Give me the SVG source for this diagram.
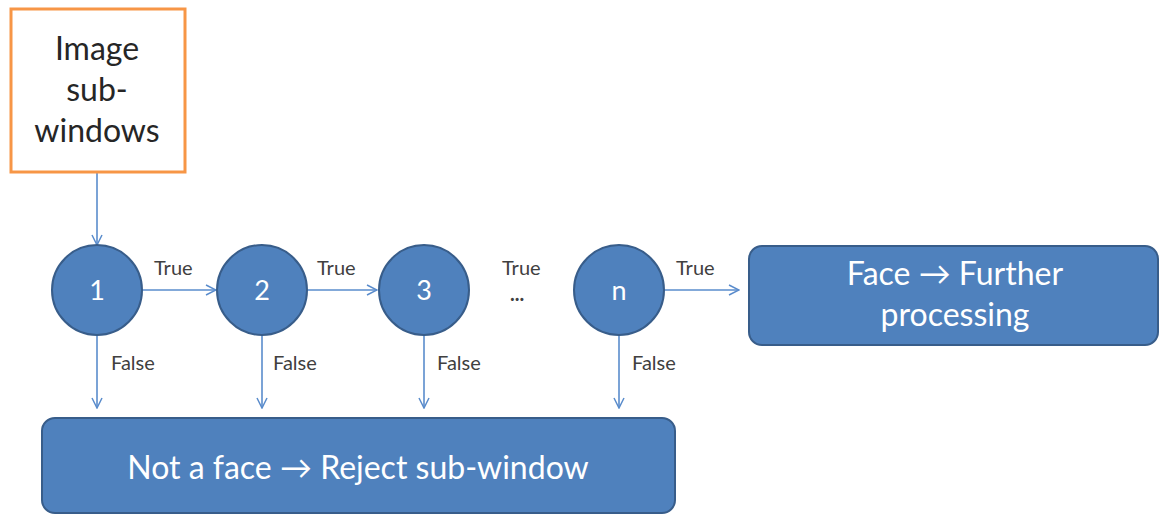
<svg xmlns="http://www.w3.org/2000/svg" width="1159" height="515" viewBox="0 0 1159 515">
  <style>
    .stage { fill: #4f81bd; stroke: #385d8a; stroke-width: 2; }
    .num { font-family: Lato, "Open Sans", sans-serif; font-size: 27px; fill: #ffffff; text-anchor: middle; }
    .big { font-family: Lato, "Open Sans", sans-serif; font-size: 32px; fill: #ffffff; text-anchor: middle; }
    .src { font-family: Lato, "Open Sans", sans-serif; font-size: 32px; fill: #262626; text-anchor: middle; }
    .lbl { font-family: Lato, "Open Sans", sans-serif; font-size: 20px; fill: #404040; }
    .wire { stroke: #5a8ccc; stroke-width: 1.6; fill: none; marker-end: url(#arrow); }
  </style>
  <defs>
    <marker id="arrow" viewBox="0 0 12 12" refX="11" refY="6" markerWidth="12" markerHeight="12" markerUnits="userSpaceOnUse" orient="auto">
      <path d="M1,1 L11,6 L1,11" fill="none" stroke="#5a8ccc" stroke-width="1.5"/>
    </marker>
  </defs>

  <rect width="1159" height="515" fill="#ffffff"/>

  <g id="connectors">
    <line class="wire" x1="97" y1="173" x2="97" y2="245"/>
    <line class="wire" x1="142" y1="290" x2="216" y2="290"/>
    <line class="wire" x1="307" y1="290" x2="377" y2="290"/>
    <line class="wire" x1="664" y1="290" x2="739" y2="290"/>
    <line class="wire" x1="97" y1="335" x2="97" y2="408"/>
    <line class="wire" x1="262" y1="335" x2="262" y2="408"/>
    <line class="wire" x1="424" y1="335" x2="424" y2="408"/>
    <line class="wire" x1="619" y1="335" x2="619" y2="408"/>
    <text class="lbl" x="154" y="275">True</text>
    <text class="lbl" x="317" y="275">True</text>
    <text class="lbl" x="502" y="275">True</text>
    <text class="lbl" x="510" y="301" font-size="19" font-weight="bold">...</text>
    <text class="lbl" x="676" y="275">True</text>
    <text class="lbl" x="111" y="370">False</text>
    <text class="lbl" x="273" y="370">False</text>
    <text class="lbl" x="437" y="370">False</text>
    <text class="lbl" x="632" y="370">False</text>
  </g>

  <g id="source">
    <rect x="11" y="9" width="174" height="163" fill="#ffffff" stroke="#f79646" stroke-width="3"/>
    <text class="src" x="97" y="60">Image</text>
    <text class="src" x="97" y="101">sub-</text>
    <text class="src" x="97" y="142">windows</text>
  </g>

  <g id="stage1">
    <circle class="stage" cx="97" cy="290" r="45"/>
    <text class="num" x="97" y="300">1</text>
  </g>
  <g id="stage2">
    <circle class="stage" cx="262" cy="290" r="45"/>
    <text class="num" x="262" y="300">2</text>
  </g>
  <g id="stage3">
    <circle class="stage" cx="424" cy="290" r="45"/>
    <text class="num" x="424" y="300">3</text>
  </g>
  <g id="stagen">
    <circle class="stage" cx="619" cy="290" r="45"/>
    <text class="num" x="619" y="300">n</text>
  </g>

  <g id="face">
    <rect class="stage" x="749" y="246" width="409" height="99" rx="13"/>
    <text class="big" x="955" y="285">Face → Further</text>
    <text class="big" x="955" y="326">processing</text>
  </g>

  <g id="reject">
    <rect class="stage" x="42" y="418" width="633" height="95" rx="13"/>
    <text class="big" x="358" y="479">Not a face → Reject sub-window</text>
  </g>
</svg>
